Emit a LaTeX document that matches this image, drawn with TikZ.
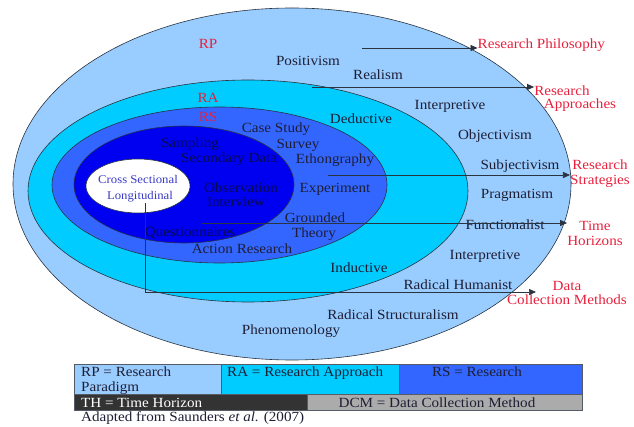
\documentclass[tikz,border=0pt]{standalone}
\usepackage{fontspec}
\setmainfont{Liberation Serif}[FakeStretch=1.08]
\usetikzlibrary{shapes.geometric,arrows.meta}
\definecolor{cRP}{HTML}{99CCFF}
\definecolor{cRA}{HTML}{00CCFF}
\definecolor{cRS}{HTML}{3366FF}
\definecolor{cDCM}{HTML}{0000F0}
\definecolor{lblred}{HTML}{E8203C}
\definecolor{txt}{HTML}{1E1E34}
\definecolor{txtdark}{HTML}{0A0A50}
\definecolor{csl}{HTML}{3A3AC8}
\definecolor{edge}{HTML}{2A3340}
\definecolor{cTH}{HTML}{333333}
\definecolor{cDC}{HTML}{ABABAB}
\begin{document}
\begin{tikzpicture}[x=1pt,y=-1pt,
  ring/.style={ellipse, draw=edge, line width=0.6pt, inner sep=0pt},
  lbl/.style={inner sep=0pt, text=txt, text height=9.5pt, text depth=0pt,
              font=\fontsize{14}{14.5}\selectfont},
  mlbl/.style={inner sep=0pt, text=txt, font=\fontsize{14}{14.5}\selectfont},
  redlbl/.style={inner sep=0pt, text=lblred, align=center,
              font=\fontsize{14}{14.5}\selectfont},
  small/.style={inner sep=0pt, text=csl, text height=8.5pt, text depth=0pt,
              font=\fontsize{11.8}{12}\selectfont},
  ptr/.style={draw=edge, line width=0.7pt, -{Triangle[length=7pt,width=6pt]}},
  cell/.style={draw=edge!80, line width=0.6pt, anchor=north west, inner sep=0pt},
]
\useasboundingbox (0,0) rectangle (634,427);

% nested ellipses
\node[ring, fill=cRP, minimum width=558pt, minimum height=352pt] (rp) at (292,184) {};
\node[ring, fill=cRA, minimum width=440pt, minimum height=222pt] (ra) at (248,191) {};
\node[ring, fill=cRS, minimum width=335pt, minimum height=156pt] (rs) at (219.5,185) {};
\node[ring, fill=cDCM, minimum width=220pt, minimum height=117pt] (dcm) at (184,184.5) {};
\node[ring, fill=white, minimum width=104pt, minimum height=54pt] (th) at (138,186) {};

% ring labels
\node[lbl, text=lblred] (tRP) at (208,44) {RP};
\node[lbl, text=lblred] (tRA) at (208,98) {RA};
\node[lbl, text=lblred] (tRS) at (208,117) {RS};

% philosophy terms
\node[lbl] (positivism) at (308,61) {Positivism};
\node[lbl] (realism) at (378,75) {Realism};
\node[lbl] (interp1) at (450,105) {Interpretive};
\node[lbl] (objectivism) at (495,135) {Objectivism};
\node[lbl] (subjectivism) at (520,165) {Subjectivism};
\node[lbl] (pragmatism) at (517,194) {Pragmatism};
\node[lbl] (functionalist) at (505,225) {Functionalist};
\node[lbl] (interp2) at (485,255) {Interpretive};
\node[lbl] (radhum) at (458,285) {Radical Humanist};
\node[lbl] (radstruct) at (393,315) {Radical Structuralism};
\node[lbl] (phenom) at (291,330) {Phenomenology};

% approaches
\node[lbl] (deductive) at (361,119) {Deductive};
\node[lbl] (inductive) at (359,268) {Inductive};

% strategies
\node[lbl] (casestudy) at (276,128) {Case Study};
\node[lbl] (survey) at (298,144) {Survey};
\node[lbl] (ethno) at (335,159) {Ethongraphy};
\node[lbl] (experiment) at (335,188) {Experiment};
\node[lbl] (grounded) at (315,218) {Grounded};
\node[lbl] (theory) at (314,233) {Theory};
\node[lbl] (action) at (242,249) {Action Research};

% data collection methods
\node[lbl, text=txtdark] (sampling) at (190,143) {Sampling};
\node[lbl, text=txtdark] (secdata) at (229,158) {Secondary Data};
\node[lbl, text=txtdark] (observation) at (241,188) {Observation};
\node[lbl, text=txtdark] (interview) at (236,202) {Interview};
\node[lbl, text=txtdark] (quest) at (190,232) {Questionnaires};

% time horizons
\node[small] (cross) at (138,179) {Cross Sectional};
\node[small] (longi) at (140,195) {Longitudinal};

% right-hand labels
\node[redlbl, anchor=west] (rphil) at (477.5,45) {Research Philosophy};
\node[redlbl] (rapp1) at (562,91) {Research};
\node[redlbl] (rapp2) at (580,105) {Approaches};
\node[redlbl] (rstr) at (600,173.5) {Research\\Strategies};
\node[redlbl] (rtime) at (595,233.5) {Time\\Horizons};
\node[redlbl] (rdcm) at (567,293) {Data\\Collection Methods};

% pointers
\coordinate (s1) at (362,48);
\coordinate (s2) at (312,87);
\coordinate (s3) at (328,175);
\coordinate (s4) at (202,223);
\coordinate (s5) at (145,203);
\coordinate (e5) at (536,292);
\draw[ptr] (s1) -- (s1 -| rphil.west);
\draw[ptr] (s2) -- (s2 -| rapp1.west);
\draw[ptr] (s3) -- (s3 -| rstr.west);
\draw[ptr] (s4) -- (s4 -| rtime.west);
\draw[ptr] (s5) |- (e5);

% legend
\node[cell, fill=cRP, minimum width=147pt, minimum height=30pt] (lg1) at (74,364) {};
\node[cell, fill=cRA, minimum width=178pt, minimum height=30pt] (lg2) at (221,364) {};
\node[cell, fill=cRS, minimum width=183pt, minimum height=30pt] (lg3) at (399,364) {};
\node[cell, fill=cTH, minimum width=233pt, minimum height=16pt] (lg4) at (74,394) {};
\node[cell, fill=cDC, minimum width=275pt, minimum height=16pt] (lg5) at (307,394) {};
\node[mlbl, anchor=west, align=left] (lgt1) at (81,380.5) {RP = Research\\Paradigm};
\node[lbl, anchor=west] (lgt2) at (227,372) {RA = Research Approach};
\node[lbl] (lgt3) at (477,372) {RS = Research};
\node[lbl, anchor=west, text=white] (lgt4) at (81,402.5) {TH = Time Horizon};
\node[lbl] (lgt5) at (437,402.5) {DCM = Data Collection Method};
\node[lbl, anchor=west] (caption) at (81,417) {Adapted from Saunders \textit{et al.} (2007)};
\end{tikzpicture}
\end{document}
